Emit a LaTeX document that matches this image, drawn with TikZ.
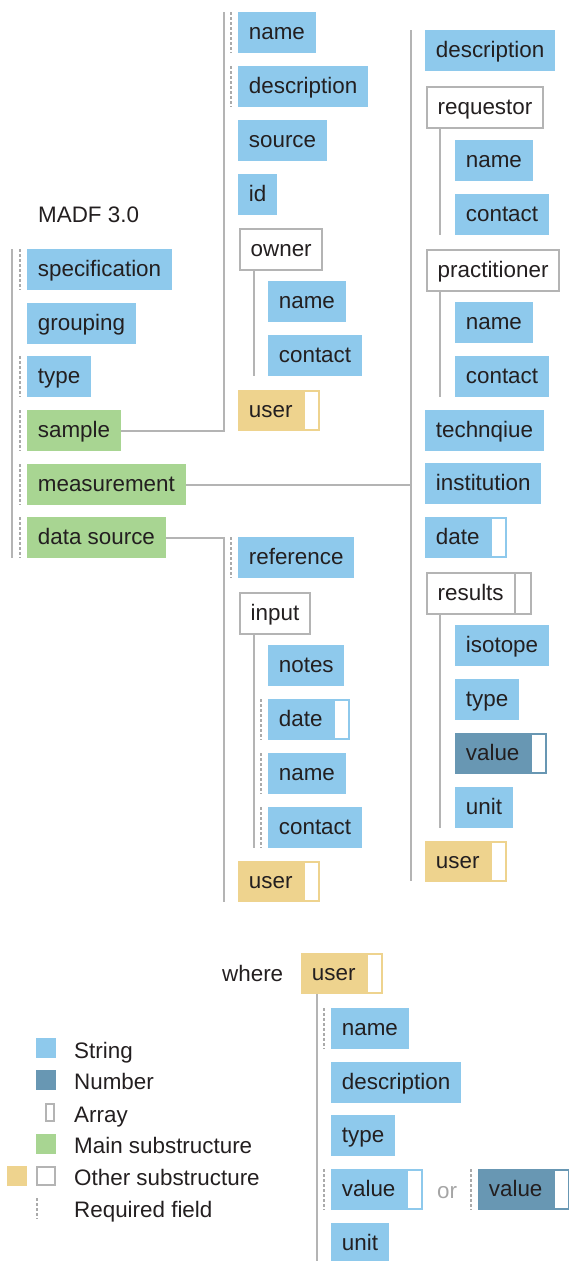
\documentclass[tikz,border=0pt]{standalone}
\usepackage{fontspec}
\setmainfont{Liberation Sans}
\usepackage{tikz}

\definecolor{strc}{RGB}{142,201,236}
\definecolor{numc}{RGB}{104,151,179}
\definecolor{mainc}{RGB}{168,213,146}
\definecolor{usrc}{RGB}{238,211,142}
\definecolor{linec}{RGB}{180,180,180}
\definecolor{reqc}{RGB}{170,170,170}
\definecolor{txtc}{RGB}{35,31,32}
\definecolor{orc}{RGB}{165,165,165}

\tikzset{
  field/.style={anchor=north west, minimum height=41pt, inner xsep=10.7pt, inner ysep=0pt,
    text height=19pt, text depth=5pt, text=txtc, font=\fontsize{22.4}{26}\selectfont},
  str/.style={field, fill=strc},
  num/.style={field, fill=numc},
  main/.style={field, fill=mainc},
  usr/.style={field, fill=usrc},
  sub/.style={field, fill=white, draw=linec, line width=2pt},
  arr/.style={execute at end node={\hspace{17pt}},
    path picture={\fill [white] ([xshift=-15pt, yshift=-2pt] path picture bounding box.north east)
      rectangle ([xshift=-2pt, yshift=2pt] path picture bounding box.south east);}},
  branch/.style={draw=linec, line width=2.2pt},
  req/.style={draw=reqc, line width=1.6pt, dash pattern=on 3pt off 2pt},
  legtext/.style={anchor=base west, inner sep=0pt, text=txtc, font=\fontsize{22.4}{26}\selectfont},
}

\begin{document}
\begin{tikzpicture}[x=1pt, y=-1pt]
    \useasboundingbox (0, 0) rectangle (569, 1261);

    % top level
    \node [legtext] (title) at (38, 222) {MADF 3.0};
    \node [str] (spec) at (27, 249) {specification};
    \node [str] (grouping) at (27, 303) {grouping};
    \node [str] (type) at (27, 356) {type};
    \node [main] (sample) at (27, 410) {sample};
    \node [main] (measurement) at (27, 464) {measurement};
    \node [main] (datasource) at (27, 517) {data source};
    \draw [branch] ([xshift=-15pt] spec.north west) -- ([xshift=-15pt] datasource.south west);

    % sample
    \node [str] (s-name) at (238, 12) {name};
    \node [str] (s-desc) at (238, 66) {description};
    \node [str] (s-source) at (238, 120) {source};
    \node [str] (s-id) at (238, 174) {id};
    \node [sub] (s-owner) at (239, 228) {owner};
    \node [str] (o-name) at (268, 281) {name};
    \node [str] (o-contact) at (268, 335) {contact};
    \node [usr, arr] (s-user) at (238, 390) {user};
    \coordinate (s-top) at (224, 12);
    \draw [branch] (sample.east) -| (s-top);
    \draw [branch] ([xshift=15pt] s-owner.south west) -- ([xshift=15pt] s-owner.south west |- o-contact.south);

    % measurement
    \node [str] (m-desc) at (425, 30) {description};
    \node [sub] (m-req) at (426, 86) {requestor};
    \node [str] (r-name) at (455, 140) {name};
    \node [str] (r-contact) at (455, 194) {contact};
    \node [sub] (m-prac) at (426, 249) {practitioner};
    \node [str] (p-name) at (455, 302) {name};
    \node [str] (p-contact) at (455, 356) {contact};
    \node [str] (m-tech) at (425, 410) {technqiue};
    \node [str] (m-inst) at (425, 463) {institution};
    \node [str, arr] (m-date) at (425, 517) {date};
    \node [sub, arr] (m-res) at (426, 572) {results};
    \node [str] (res-iso) at (455, 625) {isotope};
    \node [str] (res-type) at (455, 679) {type};
    \node [num, arr] (res-value) at (455, 733) {value};
    \node [str] (res-unit) at (455, 787) {unit};
    \node [usr, arr] (m-user) at (425, 841) {user};
    \coordinate (m-top) at (411, 30);
    \coordinate (m-bot) at (411, 881);
    \draw [branch] (m-top) -- (m-bot);
    \draw [branch] (measurement.east) -- (measurement.east -| m-top);
    \draw [branch] ([xshift=14pt] m-req.south west) -- ([xshift=14pt] m-req.south west |- r-contact.south);
    \draw [branch] ([xshift=14pt] m-prac.south west) -- ([xshift=14pt] m-prac.south west |- p-contact.south);
    \draw [branch] ([xshift=14pt] m-res.south west) -- ([xshift=14pt] m-res.south west |- res-unit.south);
    \draw [branch] ([xshift=-17pt] m-res.north east) -- ([xshift=-17pt] m-res.south east);

    % data source
    \node [str] (d-ref) at (238, 537) {reference};
    \node [sub] (d-input) at (239, 592) {input};
    \node [str] (i-notes) at (268, 645) {notes};
    \node [str, arr] (i-date) at (268, 699) {date};
    \node [str] (i-name) at (268, 753) {name};
    \node [str] (i-contact) at (268, 807) {contact};
    \node [usr, arr] (d-user) at (238, 861) {user};
    \coordinate (d-bot) at (224, 902);
    \draw [branch] (datasource.east) -| (d-bot);
    \draw [branch] ([xshift=15pt] d-input.south west) -- ([xshift=15pt] d-input.south west |- i-contact.south);

    % user
    \node [legtext] (where) at (222, 981) {where};
    \node [usr, arr] (b-user) at (301, 953) {user};
    \node [str] (b-name) at (331, 1008) {name};
    \node [str] (b-desc) at (331, 1062) {description};
    \node [str] (b-type) at (331, 1115) {type};
    \node [str, arr] (b-value) at (331, 1169) {value};
    \node [legtext, text=orc] (or) at (437, 1198) {or};
    \node [num, arr] (b-value2) at (478, 1169) {value};
    \node [str] (b-unit) at (331, 1223) {unit};
    \coordinate (b-bot) at (317, 1261);
    \draw [branch] (b-user.south west -| b-bot) -- (b-bot);

    % required fields
    \foreach \n in {spec, type, sample, measurement, datasource, s-name, s-desc, d-ref,
        i-date, i-name, i-contact, b-name, b-value, b-value2}
      \draw [req] ([xshift=-7pt] \n.north west) -- ([xshift=-7pt] \n.south west);

    % legend
    \fill [strc] (36, 1038) rectangle (56, 1058);
    \node [legtext] (l-str) at (74, 1058) {String};
    \fill [numc] (36, 1070) rectangle (56, 1090);
    \node [legtext] (l-num) at (74, 1089) {Number};
    \draw [linec, line width=2pt, fill=white] (46, 1104) rectangle (54, 1121);
    \node [legtext] (l-arr) at (74, 1122) {Array};
    \fill [mainc] (36, 1134) rectangle (56, 1154);
    \node [legtext] (l-main) at (74, 1153) {Main substructure};
    \fill [usrc] (7, 1166) rectangle (27, 1186);
    \draw [linec, line width=2pt] (37, 1167) rectangle (55, 1185);
    \node [legtext] (l-other) at (74, 1185) {Other substructure};
    \draw [req] (37, 1198) -- (37, 1219);
    \node [legtext] (l-req) at (74, 1217) {Required field};
\end{tikzpicture}
\end{document}
